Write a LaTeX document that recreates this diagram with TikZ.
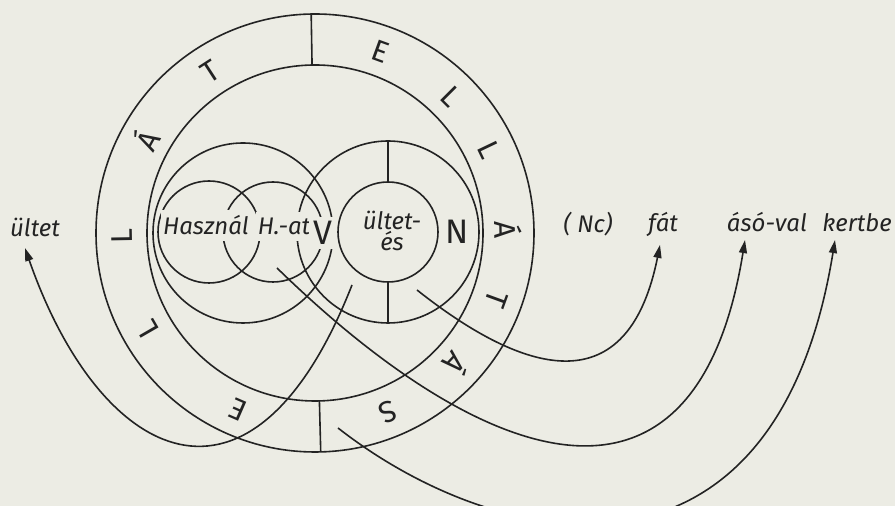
\documentclass[tikz,border=0pt]{standalone}
\usepackage{fontspec}
\setmainfont{Fira Sans}
\usetikzlibrary{arrows.meta,calc}
\definecolor{paper}{RGB}{236,236,228}
\definecolor{ink}{RGB}{35,35,35}
\tikzset{
  word/.style={font=\fontsize{12}{14}\selectfont\itshape,inner sep=3.5pt},
  gap/.style={word,fill=paper,inner xsep=1pt,inner ysep=3pt},
  ring/.style={font=\fontsize{15}{17}\selectfont,inner sep=0pt},
  bigletter/.style={font=\fontsize{17}{19}\selectfont,inner xsep=2.5pt,inner ysep=2pt},
  link/.style={-{Triangle[length=6.5pt,width=4pt]}},
}

\begin{document}
\begin{tikzpicture}[x=0.5pt,y=0.5pt,line width=0.8pt,ink]
  \path[use as bounding box,fill=paper] (0,0) rectangle (895,-506);
  \coordinate (O) at (315,-233);
  \coordinate (B) at (243,-233);
  \coordinate (Hsz) at (209,-232);
  \coordinate (Hat) at (273,-232);
  \coordinate (U) at (388,-232);
  \draw (O) circle[radius=219] (O) circle[radius=168];
  \draw ([shift={(91:168)}]O) -- ([shift={(91:219)}]O)
        ([shift={(271.5:168)}]O) -- ([shift={(271.5:219)}]O);
  \draw (B) circle[radius=90] (Hsz) circle[radius=51] (Hat) circle[radius=50];
  \draw (U) circle[radius=50] (U) circle[radius=91];
  \draw ([shift={(90:50)}]U) -- ([shift={(90:91)}]U)
        ([shift={(270:50)}]U) -- ([shift={(270:91)}]U);
  \foreach \l/\a [count=\i] in {E/70,L/45,L/25.5,Á/1,T/-20,Á/-43,S/-68,E/246.5,L/210,L/181,Á/151,T/123}
    \node[ring,rotate=\a-90] (r\i) at ([shift={(\a:193)}]O) {\l};
  \node[gap,anchor=base] (hasznal) at (206,-235) {Használ};
  \node[gap,anchor=base] (hat) at (284,-235) {H.-at};
  \node[bigletter,fill=paper] (v) at (323,-233) {V};
  \node[word,align=center,font=\fontsize{12}{8.5}\selectfont\itshape] (ultetes) at (392,-231) {ültet-\\és};
  \node[bigletter] (n) at (457,-232) {N};
  \node[word,anchor=base] (ultet) at (35,-237) {ültet};
  \node[word,anchor=base] (nc) at (588,-233) {( Nc)};
  \node[word,anchor=base] (fat) at (663,-232) {fát};
  \node[word,anchor=base] (aso) at (767,-232) {ásó-val};
  \node[word,anchor=base] (kert) at (857,-232) {kertbe};
  \coordinate (s1) at (352,-285);
  \coordinate (s2) at (417,-290);
  \coordinate (s3) at (277,-268);
  \coordinate (s4) at (338,-428);
  \draw[link] (s1) .. controls +(-100,-255) and +(75,-215) .. ($(ultet.south)+(-10,-3)$);
  \draw[link] (s2) .. controls +(120,-95) and +(-30,-150) .. ($(fat.south)+(-3,0)$);
  \draw[link] (s3) .. controls +(200,-195) and +(-50,-310) .. ($(aso.south)+(-22,0)$);
  \draw[link] (s4) .. controls +(160,-125) and +(-60,-370) .. ($(kert.south)+(-22,0)$);
\end{tikzpicture}
\end{document}
